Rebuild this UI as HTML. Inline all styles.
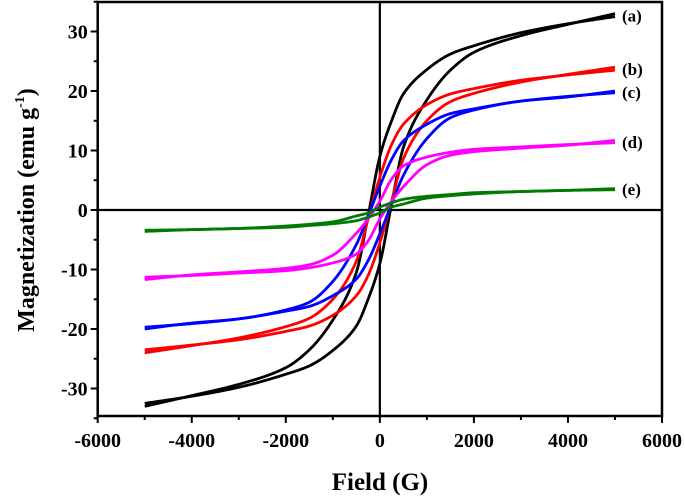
<!DOCTYPE html>
<html><head><meta charset="utf-8"><style>
body{margin:0;background:#fff;}
svg{display:block;font-family:"Liberation Serif",serif;font-weight:bold;}
</style></head><body>
<svg id="chart" width="685" height="497" viewBox="0 0 685 497" xmlns="http://www.w3.org/2000/svg">
<g id="axes"></g><g id="curves"></g><g id="labels"></g>
<text x="380" y="490" font-size="25" text-anchor="middle">Field (G)</text>
<text transform="translate(34,210) rotate(-90)" font-size="24" text-anchor="middle">Magnetization (emu g<tspan font-size="14" dy="-10">-1</tspan><tspan dy="10">)</tspan></text>
</svg>
<script>
const fields=[-5000,-4000,-3000,-2000,-1500,-1000,-500,-250,0,250,500,1000,1500,2000,3000,4000,5000];
const seriesA=[-33,-31.2,-29.3,-26.5,-23.5,-18.5,-10.5,-1,9,15,19.5,23.6,26.2,27.6,29.8,31.3,32.5];
const seriesB=[-24,-22.8,-21.5,-19.6,-18.2,-15,-8.6,-1.5,5.5,11,14.4,17.7,19.5,20.4,21.8,22.7,23.5];
const seriesC=[-20,-19,-18.3,-16.8,-15.5,-12,-5.8,-1,4,8.5,11.6,14.4,16.2,17,18.3,19.1,19.7];
const seriesD=[-11.7,-10.9,-10.4,-9.8,-9.2,-7.6,-3.9,-1.5,1.5,5.2,7.4,8.9,9.7,10.2,10.6,11,11.3];
const seriesE=[-3.6,-3.3,-3.1,-2.7,-2.4,-2,-1,-0.5,0.5,1.2,1.8,2.3,2.6,2.9,3.1,3.3,3.4];
const seriesNames=["(a)","(b)","(c)","(d)","(e)"];
const seriesColors=["#000000","#ff0000","#0000ff","#ff00ff","#007a00"];
const xTicks=[-6000,-4000,-2000,0,2000,4000,6000];
const yTicks=[-30,-20,-10,0,10,20,30];
const NS="http://www.w3.org/2000/svg";
const xs=v=>97.7+(v+6000)*(662-97.7)/12000;
const ys=v=>210-5.95*v;
const L=97.7,R=662,T=2,B=416;
function mk(tag,attrs,parent){const e=document.createElementNS(NS,tag);for(const k in attrs)e.setAttribute(k,attrs[k]);parent.appendChild(e);return e;}
const ax=document.getElementById('axes');
let f=mk('rect',{x:L,y:T,width:R-L,height:B-T,fill:'none',stroke:'#000','stroke-width':2.5},ax);


let zx=mk('line',{x1:L,x2:R,y1:ys(0),y2:ys(0),stroke:'#000','stroke-width':2.2},ax);


let zy=mk('line',{x1:xs(0),x2:xs(0),y1:T,y2:B,stroke:'#000','stroke-width':2.2},ax);


for(let v=-6000;v<=6000;v+=1000){const maj=v%2000===0;
 let t=mk('line',{x1:xs(v),x2:xs(v),y1:B,y2:B+(maj?7:4),stroke:'#000','stroke-width':2},ax);
 
 }
for(let v=-35;v<=35;v+=5){
 const maj=v%10===0;
 let t=mk('line',{x1:L-(maj?7:4),x2:L,y1:ys(v),y2:ys(v),stroke:'#000','stroke-width':2},ax);
 
 }
xTicks.forEach(v=>{let t=mk('text',{x:xs(v),y:B+31,'font-size':20,'text-anchor':'middle'},ax);t.textContent=v;
 
 });
yTicks.forEach(v=>{let t=mk('text',{x:L-10,y:ys(v)+7,'font-size':20,'text-anchor':'end'},ax);t.textContent=v;
 
 });
const cv=document.getElementById('curves'),lb=document.getElementById('labels');
function monotone(xv,yv){const n=xv.length,d=[],m=[];
 for(let i=0;i<n-1;i++)d.push((yv[i+1]-yv[i])/(xv[i+1]-xv[i]));
 m[0]=d[0];m[n-1]=d[n-2];
 for(let i=1;i<n-1;i++){if(d[i-1]*d[i]<=0)m[i]=0;else{const w1=2*(xv[i+1]-xv[i])+(xv[i]-xv[i-1]),w2=(xv[i+1]-xv[i])+2*(xv[i]-xv[i-1]);m[i]=(w1+w2)/(w1/d[i-1]+w2/d[i]);}}
 return h=>{let i=0;while(i<n-2&&h>xv[i+1])i++;const hh=xv[i+1]-xv[i],t=(h-xv[i])/hh,t2=t*t,t3=t2*t;
  return (2*t3-3*t2+1)*yv[i]+(t3-2*t2+t)*hh*m[i]+(-2*t3+3*t2)*yv[i+1]+(t3-t2)*hh*m[i+1];};}
function curvePath(fn,sign){let d='';for(let h=-5000;h<=5000;h+=20){const X=xs(sign*h),Y=ys(sign*fn(h));d+=(d?' L':'M')+X.toFixed(2)+','+Y.toFixed(2);}return d;}
[seriesA,seriesB,seriesC,seriesD,seriesE].forEach((s,i)=>{
 const fn=monotone(fields,s);
 let p1=mk('path',{d:curvePath(fn,1),fill:'none',stroke:seriesColors[i],'stroke-width':2.8,'stroke-linejoin':'round'},cv);
 
 
 let p2=mk('path',{d:curvePath(fn,-1),fill:'none',stroke:seriesColors[i],'stroke-width':2.8,'stroke-linejoin':'round'},cv);
 
 
 let t=mk('text',{x:622,y:ys(s[s.length-1])+5,'font-size':17},lb);t.textContent=seriesNames[i];
 
 
});
</script>
</body></html>
